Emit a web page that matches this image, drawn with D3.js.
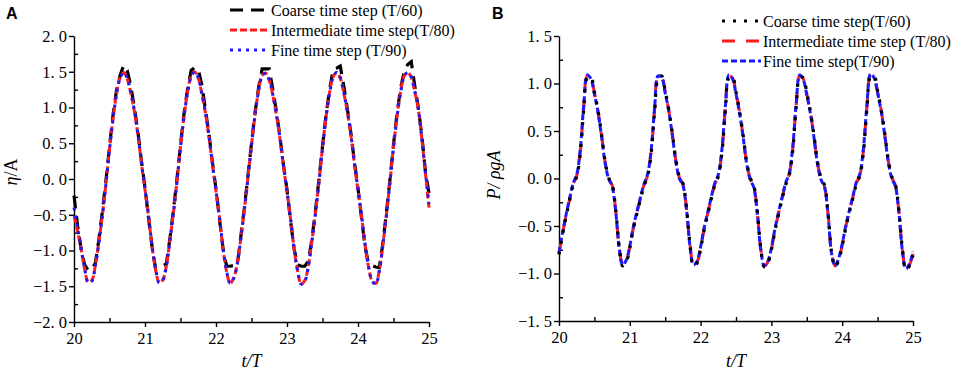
<!DOCTYPE html>
<html>
<head>
<meta charset="utf-8">
<script src="https://cdn.jsdelivr.net/npm/d3@7"></script>
<style>
  body { margin: 0; background: #fff; }
  text { font-family: 'Liberation Serif', 'Times New Roman', serif; fill: #000; }
</style>
</head>
<body>
<script>
// time axis shared by both panels (t/T)
const tGrid = [
  20.00,20.05,20.10,20.15,20.20,20.25,20.30,20.35,20.40,20.45,20.50,20.55,20.60,20.65,20.70,20.75,20.80,20.85,20.90,20.95,
  21.00,21.05,21.10,21.15,21.20,21.25,21.30,21.35,21.40,21.45,21.50,21.55,21.60,21.65,21.70,21.75,21.80,21.85,21.90,21.95,
  22.00,22.05,22.10,22.15,22.20,22.25,22.30,22.35,22.40,22.45,22.50,22.55,22.60,22.65,22.70,22.75,22.80,22.85,22.90,22.95,
  23.00,23.05,23.10,23.15,23.20,23.25,23.30,23.35,23.40,23.45,23.50,23.55,23.60,23.65,23.70,23.75,23.80,23.85,23.90,23.95,
  24.00,24.05,24.10,24.15,24.20,24.25,24.30,24.35,24.40,24.45,24.50,24.55,24.60,24.65,24.70,24.75,24.80,24.85,24.90,24.95,
  25.00]

// panel A : eta / A
const etaCoarse = [
  -0.23,-0.65,-0.98,-1.20,-1.28,-1.26,-1.18,-0.85,-0.45,-0.02,0.45,0.90,1.25,1.45,1.59,1.52,1.30,1.00,0.66,0.25,
  -0.12,-0.55,-0.95,-1.26,-1.24,-1.21,-1.19,-0.84,-0.44,0.00,0.48,0.92,1.26,1.52,1.56,1.53,1.32,0.98,0.63,0.23,
  -0.14,-0.57,-0.98,-1.22,-1.22,-1.21,-1.20,-0.80,-0.40,0.05,0.50,0.93,1.28,1.54,1.54,1.54,1.25,0.95,0.60,0.20,
  -0.15,-0.58,-0.98,-1.20,-1.22,-1.22,-1.15,-0.85,-0.45,-0.01,0.46,0.90,1.25,1.53,1.55,1.58,1.30,0.98,0.64,0.24,
  -0.13,-0.55,-0.95,-1.19,-1.21,-1.23,-1.24,-0.90,-0.47,-0.01,0.48,0.92,1.27,1.50,1.60,1.64,1.30,1.00,0.60,0.10,
  -0.20]
const etaInter = [
  -0.52,-0.72,-0.98,-1.26,-1.44,-1.42,-1.21,-0.88,-0.50,-0.06,0.42,0.85,1.20,1.42,1.49,1.40,1.20,0.95,0.62,0.22,
  -0.15,-0.52,-0.95,-1.27,-1.45,-1.41,-1.22,-0.86,-0.47,-0.03,0.45,0.88,1.22,1.44,1.50,1.41,1.19,0.93,0.60,0.20,
  -0.17,-0.55,-0.98,-1.30,-1.46,-1.38,-1.18,-0.82,-0.42,0.02,0.48,0.90,1.24,1.45,1.48,1.38,1.17,0.90,0.57,0.18,
  -0.18,-0.56,-0.98,-1.29,-1.47,-1.42,-1.22,-0.87,-0.48,-0.04,0.44,0.87,1.21,1.43,1.49,1.41,1.20,0.94,0.61,0.21,
  -0.16,-0.52,-0.92,-1.24,-1.43,-1.46,-1.28,-0.92,-0.50,-0.04,0.45,0.88,1.22,1.44,1.49,1.42,1.22,0.97,0.55,0.08,
  -0.40]
const etaFine = [
  -0.40,-0.68,-0.97,-1.25,-1.45,-1.43,-1.22,-0.89,-0.51,-0.07,0.41,0.84,1.19,1.41,1.49,1.41,1.21,0.96,0.63,0.23,
  -0.14,-0.51,-0.94,-1.26,-1.45,-1.42,-1.23,-0.87,-0.48,-0.04,0.44,0.87,1.21,1.43,1.50,1.42,1.20,0.94,0.61,0.21,
  -0.16,-0.54,-0.97,-1.29,-1.46,-1.39,-1.19,-0.83,-0.43,0.01,0.47,0.89,1.23,1.44,1.48,1.39,1.18,0.91,0.58,0.19,
  -0.17,-0.55,-0.97,-1.28,-1.47,-1.43,-1.23,-0.88,-0.49,-0.05,0.43,0.86,1.20,1.42,1.49,1.42,1.21,0.95,0.62,0.22,
  -0.15,-0.51,-0.91,-1.23,-1.43,-1.47,-1.29,-0.93,-0.51,-0.05,0.44,0.87,1.21,1.43,1.49,1.43,1.23,0.98,0.56,0.10,
  -0.35]

// panel B : P / rho g A
const pCoarse = [
  -0.80,-0.59,-0.40,-0.23,-0.07,0.02,0.26,0.73,1.06,1.07,0.91,0.72,0.47,0.19,0.01,-0.06,-0.32,-0.71,-0.92,-0.88,
  -0.73,-0.53,-0.37,-0.22,-0.08,0.02,0.25,0.70,1.05,1.08,0.92,0.73,0.48,0.20,0.02,-0.05,-0.30,-0.69,-0.92,-0.89,
  -0.74,-0.54,-0.38,-0.22,-0.07,0.02,0.26,0.72,1.06,1.07,0.91,0.71,0.46,0.18,0.01,-0.07,-0.34,-0.73,-0.93,-0.89,
  -0.75,-0.55,-0.38,-0.22,-0.07,0.03,0.28,0.75,1.06,1.06,0.90,0.71,0.46,0.18,0.01,-0.07,-0.36,-0.77,-0.93,-0.86,
  -0.71,-0.52,-0.36,-0.21,-0.06,0.03,0.28,0.74,1.07,1.08,0.92,0.73,0.48,0.20,0.02,-0.06,-0.33,-0.74,-0.96,-0.92,
  -0.81]
const pInter = [
  -0.79,-0.58,-0.39,-0.22,-0.06,0.03,0.28,0.76,1.08,1.06,0.90,0.71,0.46,0.18,0.00,-0.07,-0.33,-0.72,-0.91,-0.87,
  -0.72,-0.52,-0.36,-0.21,-0.07,0.03,0.27,0.72,1.07,1.07,0.91,0.72,0.47,0.19,0.01,-0.06,-0.31,-0.70,-0.91,-0.88,
  -0.73,-0.53,-0.37,-0.21,-0.06,0.03,0.28,0.74,1.08,1.06,0.90,0.70,0.45,0.17,0.00,-0.08,-0.35,-0.74,-0.92,-0.88,
  -0.74,-0.54,-0.37,-0.21,-0.06,0.04,0.30,0.77,1.08,1.05,0.89,0.70,0.45,0.17,0.00,-0.08,-0.37,-0.78,-0.92,-0.85,
  -0.70,-0.51,-0.35,-0.20,-0.05,0.04,0.30,0.76,1.09,1.07,0.91,0.72,0.47,0.19,0.01,-0.07,-0.34,-0.75,-0.95,-0.91,
  -0.79]
const pFine = [
  -0.78,-0.57,-0.38,-0.21,-0.05,0.04,0.30,0.78,1.09,1.05,0.89,0.70,0.45,0.17,0.00,-0.08,-0.34,-0.73,-0.91,-0.86,
  -0.71,-0.51,-0.35,-0.20,-0.06,0.04,0.29,0.74,1.08,1.06,0.90,0.71,0.46,0.18,0.00,-0.07,-0.32,-0.71,-0.91,-0.87,
  -0.72,-0.52,-0.36,-0.20,-0.05,0.04,0.30,0.76,1.09,1.05,0.89,0.69,0.44,0.16,-0.01,-0.09,-0.36,-0.75,-0.92,-0.87,
  -0.73,-0.53,-0.36,-0.20,-0.05,0.05,0.32,0.79,1.09,1.04,0.88,0.69,0.44,0.16,-0.01,-0.09,-0.38,-0.79,-0.92,-0.84,
  -0.69,-0.50,-0.34,-0.19,-0.04,0.05,0.32,0.78,1.10,1.06,0.90,0.71,0.46,0.18,0.00,-0.08,-0.35,-0.76,-0.95,-0.90,
  -0.77]

const legendA = ['Coarse time step (T/60)', 'Intermediate time step(T/80)', 'Fine time step (T/90)']
const legendB = ['Coarse time step(T/60)', 'Intermediate time step (T/80)', 'Fine time step(T/90)']

const svg = d3.select('body').append('svg')
    .attr('width', 957)
    .attr('height', 373)

// tick label style: "1. 5", "−0. 5"
const fmtY = d => d3.format('.1f')(Math.abs(d)).replace('.', '. ')
const fmtYs = d => (d < 0 ? '\u2212' : '') + fmtY(d)

const drawPanel = (opt) => {
    let x = d3.scaleLinear().domain([20, 25]).range([opt.left, opt.right])
    let y = d3.scaleLinear().domain(opt.yDomain).range([opt.bottom, opt.top])

    let g = svg.append('g')

    // minor ticks point inwards, major ticks outwards
    let xMinor = d3.axisBottom(x).tickValues(d3.range(20.5, 25, 1)).tickSize(-4).tickFormat('')
    let yMinor = d3.axisLeft(y).tickValues(opt.yMinor).tickSize(-4).tickFormat('')
    g.append('g').attr('transform', 'translate(0,' + opt.bottom + ')').call(xMinor)
        .call(a => a.select('.domain').remove())
    g.append('g').attr('transform', 'translate(' + opt.left + ',0)').call(yMinor)
        .call(a => a.select('.domain').remove())

    let xAxis = d3.axisBottom(x).tickValues([20, 21, 22, 23, 24, 25]).tickSize(5).tickSizeOuter(0)
        .tickPadding(5).tickFormat(d3.format('d'))
    let yAxis = d3.axisLeft(y).tickValues(opt.yMajor).tickSize(5).tickSizeOuter(0)
        .tickPadding(2).tickFormat(fmtYs)
    g.append('g').attr('transform', 'translate(0,' + opt.bottom + ')').call(xAxis)
    g.append('g').attr('transform', 'translate(' + opt.left + ',0)').call(yAxis)
    g.selectAll('.tick line, .domain').attr('stroke', '#000').attr('stroke-width', 1.4)
    g.selectAll('.tick text').style('font-family', "'Liberation Serif', serif").style('font-size', '16.5px')

    // curves
    opt.series.forEach(s => {
        let line = d3.line()
            .x((d, i) => x(tGrid[i]))
            .y(d => y(d))
            .curve(s.curve)
        g.append('path')
            .datum(s.values)
            .attr('d', line)
            .attr('fill', 'none')
            .attr('stroke', s.color)
            .attr('stroke-width', s.width)
            .attr('stroke-dasharray', s.dash)
    })

    // legend (drawn in legend order)
    opt.legendOrder.forEach((s, i) => {
        let ly = opt.legY + i * 20
        g.append('line')
            .attr('x1', opt.legX).attr('x2', opt.legX + 39)
            .attr('y1', ly).attr('y2', ly)
            .attr('stroke', s.color).attr('stroke-width', s.width)
            .attr('stroke-dasharray', s.dash)
        g.append('text')
            .attr('x', opt.legX + 41).attr('y', ly + 5.5)
            .style('font-size', '16px')
            .text(s.label)
    })

    // axis titles
    g.append('text')
        .attr('x', (opt.left + opt.right) / 2).attr('y', 367)
        .attr('text-anchor', 'middle')
        .style('font-size', '18px').style('font-style', 'italic')
        .text('t/T')
    let yl = g.append('text')
        .attr('transform', 'translate(' + opt.yLabX + ',' + opt.yLabY + ') rotate(-90)')
        .attr('text-anchor', 'middle')
        .style('font-size', '18px')
    opt.yLabel(yl)

    // panel letter
    g.append('text')
        .attr('x', opt.letterX).attr('y', 19)
        .style('font-family', "'Liberation Sans', Arial, sans-serif")
        .style('font-weight', 'bold').style('font-size', '16px')
        .text(opt.letter)
}

// panel A
let aCoarse = {values: etaCoarse, color: '#000', width: 3.2, dash: '13,8', curve: d3.curveLinear, label: legendA[0]}
let aInter = {values: etaInter, color: '#ff1a1a', width: 3, dash: '7,3', curve: d3.curveCatmullRom, label: legendA[1]}
let aFine = {values: etaFine, color: '#1a1aff', width: 3, dash: '3,5', curve: d3.curveCatmullRom, label: legendA[2]}
drawPanel({
    left: 74, right: 429, top: 36, bottom: 322,
    yDomain: [-2, 2],
    yMajor: [-2, -1.5, -1, -0.5, 0, 0.5, 1, 1.5, 2],
    yMinor: [-1.75, -1.25, -0.75, -0.25, 0.25, 0.75, 1.25, 1.75],
    series: [aCoarse, aInter, aFine],
    legendOrder: [aCoarse, aInter, aFine],
    legX: 230, legY: 10,
    yLabX: 17, yLabY: 172,
    yLabel: t => {
        t.append('tspan').style('font-style', 'italic').text('\u03b7')
        t.append('tspan').text('/A')
    },
    letter: 'A', letterX: 6
})

// panel B
let bCoarse = {values: pCoarse, color: '#000', width: 3.2, dash: '3,8', curve: d3.curveCatmullRom, label: legendB[0]}
let bInter = {values: pInter, color: '#ff1a1a', width: 3, dash: '13,11', curve: d3.curveCatmullRom, label: legendB[1]}
let bFine = {values: pFine, color: '#1a1aff', width: 3, dash: '6,3', curve: d3.curveCatmullRom, label: legendB[2]}
drawPanel({
    left: 559, right: 913, top: 36, bottom: 321,
    yDomain: [-1.5, 1.5],
    yMajor: [-1.5, -1, -0.5, 0, 0.5, 1, 1.5],
    yMinor: [-1.25, -0.75, -0.25, 0.25, 0.75, 1.25],
    series: [bInter, bFine, bCoarse],
    legendOrder: [bCoarse, bInter, bFine],
    legX: 722, legY: 21,
    yLabX: 500, yLabY: 175,
    yLabel: t => {
        t.style('font-style', 'italic').text('P/ \u03c1gA')
    },
    letter: 'B', letterX: 492
})
</script>
</body>
</html>
